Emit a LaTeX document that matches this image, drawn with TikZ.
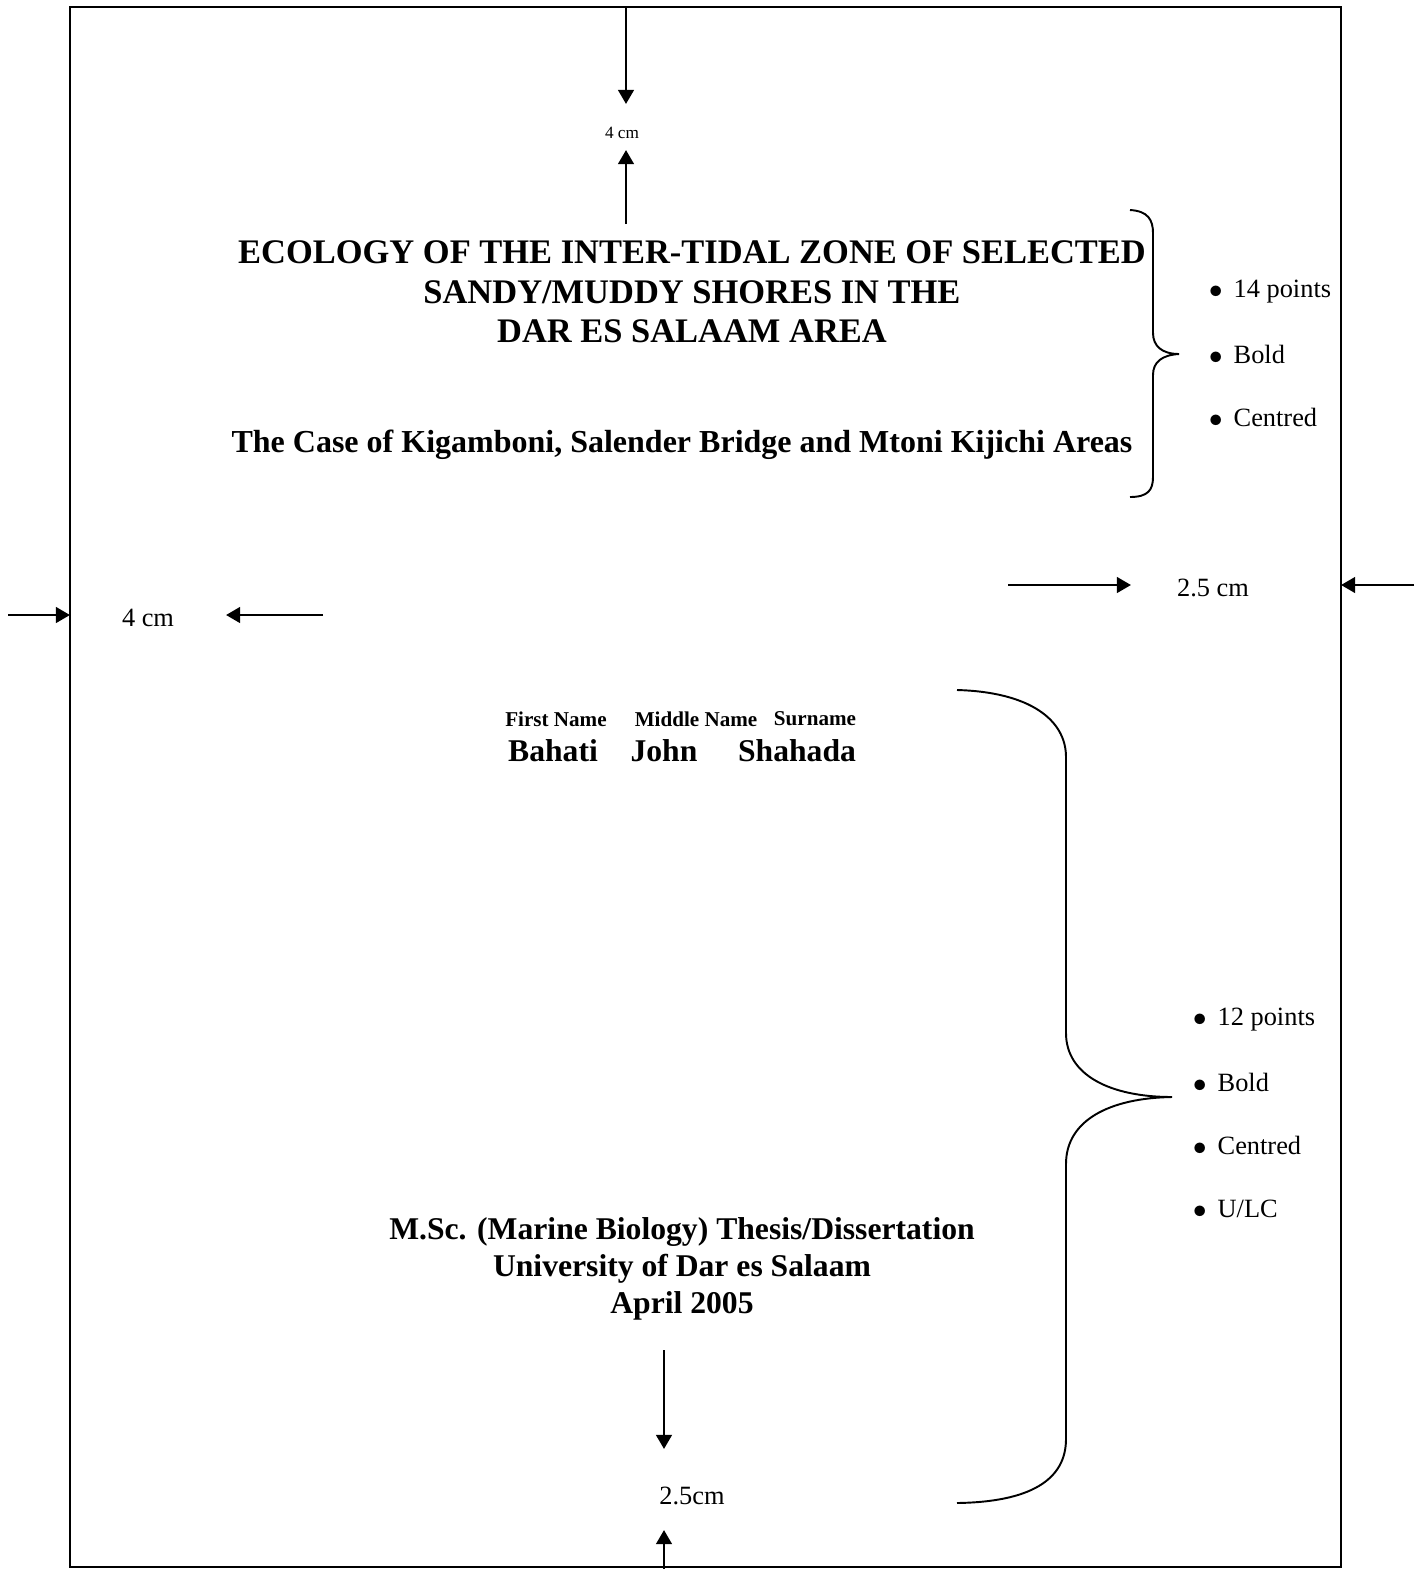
\documentclass[tikz,border=0pt]{standalone}
\usepackage{fontspec}
\setmainfont{Liberation Serif}
\usetikzlibrary{arrows.meta}

\begin{document}
\begin{tikzpicture}[x=0.01cm,y=-0.01cm,
	dim/.style={-{Triangle[length=4pt,width=4.4pt]},thick},
	brace/.style={line width=0.55pt},
	note/.style={font=\fontsize{7.5}{9}\selectfont},
	item/.style={anchor=west,inner sep=0pt,font=\fontsize{7.5}{9}\selectfont},
	head/.style={align=center,font=\fontsize{9.8}{11.2}\selectfont\bfseries},
	info/.style={align=center,font=\fontsize{9}{10.5}\selectfont\bfseries}]
	\useasboundingbox (0,0) rectangle (1422,1569);
	\draw[semithick] (70,7) rectangle (1341,1567);
	\node[head] (title) at (692,292) {ECOLOGY OF THE INTER-TIDAL ZONE OF SELECTED\\SANDY/MUDDY SHORES IN THE\\DAR ES SALAAM AREA};
	\node[head,font=\fontsize{9.1}{11}\selectfont\bfseries] (case) at (682,445) {The Case of Kigamboni, Salender Bridge and Mtoni Kijichi Areas};
	\node[font=\fontsize{6}{7}\selectfont\bfseries] (first) at (556,719) {First Name};
	\node[font=\fontsize{6}{7}\selectfont\bfseries] (middle) at (696,719) {Middle Name};
	\node[font=\fontsize{6}{7}\selectfont\bfseries] (sur) at (815,719) {Surname};
	\node[info] (bahati) at (553,751) {Bahati};
	\node[info] (john) at (664,751) {John};
	\node[info] (shahada) at (797,751) {Shahada};
	\node[info] (degree) at (682,1269) {M.Sc. (Marine Biology) Thesis/Dissertation\\University of Dar es Salaam\\April 2005};
	\node[font=\fontsize{4.9}{6}\selectfont] (topcm) at (622,133) {4 cm};
	\node[note] (leftcm) at (148,618) {4 cm};
	\node[note] (rightcm) at (1213,588) {2.5 cm};
	\node[note] (botcm) at (692,1496) {2.5cm};
	\node[item] (big1) at (1208,292) {$\bullet$\hspace{3pt}14 points};
	\node[item] (big2) at (1208,354) {$\bullet$\hspace{3pt}Bold};
	\node[item] (big3) at (1208,417) {$\bullet$\hspace{3pt}Centred};
	\node[item] (small1) at (1192,1020) {$\bullet$\hspace{3pt}12 points};
	\node[item] (small2) at (1192,1082) {$\bullet$\hspace{3pt}Bold};
	\node[item] (small3) at (1192,1145) {$\bullet$\hspace{3pt}Centred};
	\node[item] (small4) at (1192,1209) {$\bullet$\hspace{3pt}U/LC};
	\coordinate (top a) at (626,7);
	\coordinate (top b) at (626,104);
	\coordinate (top c) at (626,224);
	\coordinate (top d) at (626,150);
	\coordinate (left a) at (8,615);
	\coordinate (left b) at (70,615);
	\coordinate (left c) at (323,615);
	\coordinate (left d) at (226,615);
	\coordinate (right a) at (1008,585);
	\coordinate (right b) at (1131,585);
	\coordinate (right c) at (1414,585);
	\coordinate (right d) at (1341,585);
	\coordinate (bot a) at (664,1350);
	\coordinate (bot b) at (664,1449);
	\coordinate (bot c) at (664,1569);
	\coordinate (bot d) at (664,1530);
	\draw[dim] (top a) -- (top b);
	\draw[dim] (top c) -- (top d);
	\draw[dim] (left a) -- (left b);
	\draw[dim] (left c) -- (left d);
	\draw[dim] (right a) -- (right b);
	\draw[dim] (right c) -- (right d);
	\draw[dim] (bot a) -- (bot b);
	\draw[dim] (bot c) -- (bot d);
	\draw[brace] (1130,210) .. controls (1148,211) and (1153,220) .. (1153,233) -- (1153,333)
		.. controls (1153,346) and (1162,354) .. (1179,354)
		.. controls (1162,355) and (1153,362) .. (1153,375) -- (1153,477)
		.. controls (1153,490) and (1148,497) .. (1130,497);
	\draw[brace] (957,690) .. controls (1030,692) and (1066,720) .. (1066,757) -- (1066,1033)
		.. controls (1066,1075) and (1110,1097) .. (1172,1097)
		.. controls (1110,1098) and (1066,1120) .. (1066,1164) -- (1066,1439)
		.. controls (1066,1480) and (1030,1502) .. (957,1503);
\end{tikzpicture}
\end{document}
